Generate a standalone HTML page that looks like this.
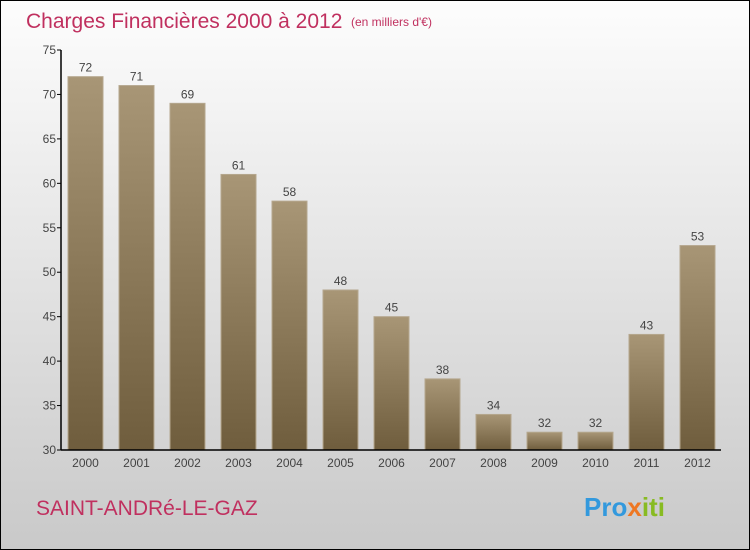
<!DOCTYPE html>
<html><head><meta charset="utf-8"><style>
body{margin:0}
#c{width:750px;height:550px;position:relative;box-sizing:border-box;border:1px solid #000;background:linear-gradient(#fdfdfd,#c9c9c9);font-family:"Liberation Sans",sans-serif;overflow:hidden}
</style></head><body>
<div id="c">
<svg id="s" width="748" height="548" style="position:absolute;left:0;top:0">
<defs><linearGradient id="g" x1="0" y1="0" x2="0" y2="1"><stop offset="0" stop-color="#a89676"/><stop offset="1" stop-color="#6f5d3d"/></linearGradient></defs>
<text x="25" y="27" font-size="21" fill="#c0305f">Charges Financières 2000 à 2012</text>
<text x="350" y="25" font-size="12" fill="#c0305f">(en milliers d'€)</text>
<text x="35" y="514" font-size="21" fill="#c0305f">SAINT-ANDRé-LE-GAZ</text>
<text x="583" y="515" font-size="26" font-weight="bold" fill="#3399dd">Pro<tspan fill="#ee7722">x</tspan><tspan fill="#88bb22">iti</tspan></text>
<g id="plot"></g>
</svg>
</div>
<script>
const categories=["2000","2001","2002","2003","2004","2005","2006","2007","2008","2009","2010","2011","2012"];
const values=[72,71,69,61,58,48,45,38,34,32,32,43,53];
const yTicks=[30,35,40,45,50,55,60,65,70,75];
const ns="http://www.w3.org/2000/svg";
const g=document.getElementById("plot");
const y0=449,y1=49,vmin=30,vmax=75;
const ys=v=>y0-(v-vmin)/(vmax-vmin)*(y0-y1);
const xs=i=>67+i*51;
function mk(t,a){const e=document.createElementNS(ns,t);for(const k in a)e.setAttribute(k,a[k]);g.appendChild(e);return e;}
values.forEach((v,i)=>{
 const r=mk("rect",{x:xs(i),y:ys(v),width:35,height:y0-ys(v),fill:"url(#g)",stroke:"#b5a78e","stroke-width":1});
 
 
 const t=mk("text",{x:xs(i)+17.5,y:ys(v)-5,"text-anchor":"middle","font-size":12,fill:"#444"});t.textContent=v;
 
 
 const c=mk("text",{x:xs(i)+17.5,y:466,"text-anchor":"middle","font-size":12,fill:"#444"});c.textContent=categories[i];
 
 
});
yTicks.forEach(v=>{
 const l=mk("line",{x1:56,x2:60,y1:ys(v),y2:ys(v),stroke:"#000"});
 
 
 const t=mk("text",{x:55,y:ys(v)+4,"text-anchor":"end","font-size":12,fill:"#444"});t.textContent=v;
 
 
});
const ya=mk("line",{x1:60,x2:60,y1:y1,y2:y0,stroke:"#000","stroke-width":1.5});


const xa=mk("line",{x1:60,x2:720,y1:y0,y2:y0,stroke:"#000","stroke-width":1.5});


</script>
</body></html>
